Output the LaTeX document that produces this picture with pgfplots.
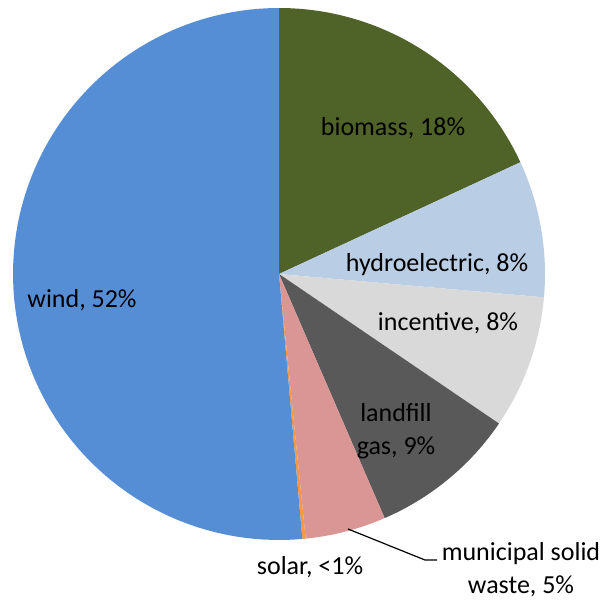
\documentclass[border=0pt]{standalone}
\usepackage{pgfplots}
\pgfplotsset{compat=1.18}
\usepackage{fontspec}
\setmainfont{Carlito}
\definecolor{cBio}{HTML}{4F6228}
\definecolor{cHyd}{HTML}{B9CDE5}
\definecolor{cInc}{HTML}{D9D9D9}
\definecolor{cLan}{HTML}{595959}
\definecolor{cMsw}{HTML}{D99694}
\definecolor{cSol}{HTML}{F79646}
\definecolor{cWin}{HTML}{558ED5}
% shares in percent
\def\pBio{18.1}\def\pHyd{8.3}\def\pInc{8.1}\def\pLan{9.0}\def\pMsw{4.9}\def\pSol{0.2}
\pgfmathsetmacro\aA{90}
\pgfmathsetmacro\aB{\aA-3.6*\pBio}
\pgfmathsetmacro\aC{\aB-3.6*\pHyd}
\pgfmathsetmacro\aD{\aC-3.6*\pInc}
\pgfmathsetmacro\aE{\aD-3.6*\pLan}
\pgfmathsetmacro\aF{\aE-3.6*\pMsw}
\pgfmathsetmacro\aG{\aF-3.6*\pSol}
\pgfmathsetmacro\aH{-270}
\newcommand{\slice}[3]{\addplot[fill=#3, draw=none, domain=#2:#1, samples=90, variable=\t] ({279+266*cos(\t)},{329+266*sin(\t)}) -- (axis cs:279,329) -- cycle;}
\tikzset{lbl/.style={font=\fontsize{26}{33}\selectfont, inner sep=0pt}}
\begin{document}
\begin{tikzpicture}
\begin{axis}[scale only axis, width=607pt, height=603pt,
  xmin=0, xmax=607, ymin=0, ymax=603, axis lines=none, clip=false]
\addplot[draw=none] coordinates {(0,0) (607,603)};
\slice{\aA}{\aB}{cBio}
\slice{\aB}{\aC}{cHyd}
\slice{\aC}{\aD}{cInc}
\slice{\aD}{\aE}{cLan}
\slice{\aE}{\aF}{cMsw}
\slice{\aF}{\aG}{cSol}
\slice{\aG}{\aH}{cWin}
\addplot[black, line width=1.2pt] coordinates {(348,74) (425,43) (437,43)};
\node[lbl] at (axis cs:393,475) {biomass, 18\%};
\node[lbl] at (axis cs:437,338) {hydroelectric, 8\%};
\node[lbl] at (axis cs:448,280) {incentive, 8\%};
\node[lbl, align=center] at (axis cs:396,172) {landfill\\gas, 9\%};
\node[lbl] at (axis cs:82,303) {wind, 52\%};
\node[lbl] at (axis cs:310,36) {solar, <1\%};
\node[lbl, align=center] at (axis cs:521,33) {municipal solid\\waste, 5\%};
\end{axis}
\end{tikzpicture}
\end{document}
